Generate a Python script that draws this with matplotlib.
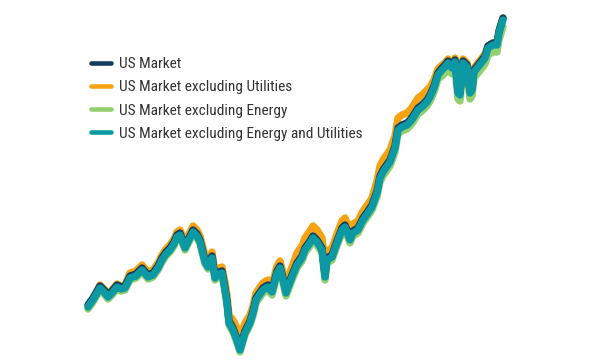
import matplotlib
matplotlib.use("Agg")
import matplotlib.pyplot as plt

# time steps (periods) and index levels
periods = [0, 5, 12, 16, 20, 24, 29, 33, 37, 42,
           48, 54, 60, 65, 70, 74, 78, 82, 86, 89,
           92, 97, 101, 105, 109, 112, 117, 120, 124, 127,
           131, 134, 137, 139, 141, 145, 148, 152, 157, 162,
           165, 168, 170, 175, 178, 180, 184, 189, 192, 195,
           198, 201, 204, 209, 214, 217, 222, 225, 229, 234,
           237, 239, 244, 249, 254, 257, 262, 265, 270, 275,
           280, 284, 289, 292, 295, 302, 307, 310, 314, 319,
           322, 325, 330, 334, 339, 342, 346, 350, 354, 357,
           360, 364, 367, 370, 372, 375, 379, 382, 384, 386,
           390, 394, 397, 400, 405, 409, 411, 414, 415]

us_market = [5.9, 6.6, 7.8, 7.4, 6.9, 7.3, 7.9, 7.7, 7.8, 8.8,
             9.0, 9.6, 8.9, 9.1, 9.8, 10.6, 11.2, 11.6, 12.2, 12.9,
             13.1, 11.8, 12.6, 13.4, 13.0, 12.4, 10.4, 9.9, 10.8, 8.8,
             9.2, 9.3, 7.6, 6.3, 4.3, 3.6, 2.8, 1.6, 3.3, 4.3,
             5.3, 6.6, 6.9, 7.6, 7.8, 7.9, 7.4, 9.3, 9.8, 8.6,
             7.3, 8.1, 8.9, 10.1, 10.8, 11.6, 12.3, 12.8, 12.4, 11.6,
             8.9, 10.6, 10.9, 12.3, 13.6, 13.9, 12.6, 13.3, 13.6, 14.6,
             15.3, 15.9, 17.3, 18.8, 19.4, 20.4, 21.8, 23.6, 23.9, 24.1,
             24.4, 24.8, 25.6, 25.9, 26.4, 26.9, 27.8, 29.1, 29.6, 29.9,
             30.3, 29.8, 30.4, 27.3, 27.1, 30.3, 29.9, 27.3, 27.6, 29.4,
             29.9, 30.4, 30.8, 31.8, 32.1, 32.1, 33.3, 34.3, 34.6]

ex_utilities = [5.8, 6.5, 7.9, 7.5, 7.0, 7.4, 8.0, 7.8, 7.9, 9.1,
                9.3, 9.9, 9.2, 9.4, 10.1, 10.9, 11.5, 11.9, 12.5, 13.2,
                13.4, 12.2, 13.0, 13.8, 13.4, 12.8, 10.8, 10.3, 11.2, 9.2,
                9.6, 9.7, 8.2, 6.9, 4.9, 4.4, 3.8, 2.7, 4.1, 4.9,
                5.8, 7.1, 7.4, 8.1, 8.3, 8.4, 7.9, 9.8, 10.3, 9.1,
                8.1, 8.9, 9.7, 11.1, 11.8, 12.6, 13.3, 13.8, 13.4, 12.6,
                9.6, 11.3, 11.6, 13.0, 14.3, 14.6, 13.3, 14.0, 14.3, 15.3,
                16.0, 16.6, 18.3, 19.8, 20.4, 21.4, 22.8, 24.6, 24.9, 25.1,
                25.4, 25.8, 26.6, 26.9, 27.4, 27.7, 28.4, 29.5, 29.9, 30.1,
                30.5, 30.0, 30.6, 27.5, 27.3, 30.5, 30.1, 27.5, 27.8, 29.6,
                30.1, 30.6, 31.0, 31.8, 32.1, 32.1, 33.3, 34.3, 34.6]

ex_energy = [5.5, 6.2, 7.4, 7.0, 6.5, 6.9, 7.5, 7.3, 7.4, 8.4,
             8.6, 9.2, 8.5, 8.7, 9.4, 10.2, 10.8, 11.2, 11.8, 12.5,
             12.7, 11.4, 12.2, 13.0, 12.6, 12.0, 10.0, 9.5, 10.4, 8.4,
             8.8, 8.9, 7.2, 5.9, 3.9, 3.2, 2.4, 1.2, 2.9, 3.9,
             4.8, 6.1, 6.4, 7.1, 7.3, 7.4, 6.9, 8.8, 9.3, 8.1,
             6.8, 7.6, 8.4, 9.6, 10.3, 11.1, 11.8, 12.3, 11.9, 11.1,
             8.4, 10.1, 10.4, 11.8, 13.1, 13.4, 12.1, 12.8, 13.1, 14.1,
             14.8, 15.4, 16.7, 18.2, 18.8, 19.8, 21.2, 23.0, 23.3, 23.5,
             23.8, 24.2, 25.0, 25.3, 25.8, 26.3, 27.2, 28.5, 28.8, 29.1,
             29.5, 29.0, 29.6, 26.5, 26.3, 29.5, 29.1, 26.5, 26.8, 28.6,
             29.1, 29.6, 30.0, 30.9, 31.2, 31.2, 32.4, 33.4, 33.7]

ex_energy_utilities = [5.7, 6.4, 7.6, 7.2, 6.7, 7.1, 7.7, 7.5, 7.6, 8.6,
                       8.8, 9.4, 8.7, 8.9, 9.6, 10.4, 11.0, 11.4, 12.0, 12.7,
                       12.9, 11.6, 12.4, 13.2, 12.8, 12.2, 10.2, 9.7, 10.6, 8.6,
                       9.0, 9.1, 7.4, 6.1, 4.1, 3.4, 2.6, 1.4, 3.1, 4.1,
                       5.1, 6.4, 6.7, 7.4, 7.6, 7.7, 7.2, 9.1, 9.6, 8.4,
                       7.1, 7.9, 8.7, 9.9, 10.6, 11.4, 12.1, 12.6, 12.2, 11.4,
                       8.7, 10.4, 10.7, 12.1, 13.4, 13.7, 12.4, 13.1, 13.4, 14.4,
                       15.1, 15.7, 17.1, 18.6, 19.2, 20.2, 21.6, 23.4, 23.7, 23.9,
                       24.2, 24.6, 25.4, 25.7, 26.2, 26.7, 27.6, 28.9, 29.4, 29.7,
                       30.1, 29.6, 30.2, 27.1, 26.9, 30.1, 29.7, 27.1, 27.4, 29.2,
                       29.7, 30.2, 30.6, 31.6, 31.9, 31.9, 33.1, 34.1, 34.4]

labels = ["US Market", "US Market excluding Utilities",
          "US Market excluding Energy", "US Market excluding Energy and Utilities"]
colors = ["#123d5e", "#f6a313", "#93cf6e", "#0d99a3"]

fig = plt.figure(figsize=(6, 3.64), dpi=100)
ax = fig.add_axes([0, 0, 1, 1])

# draw order: orange and green underneath, then navy, teal on top
order = [1, 2, 0, 3]
series = [us_market, ex_utilities, ex_energy, ex_energy_utilities]
handles = [None] * 4
for i in order:
    ln, = ax.plot(periods, series[i], color=colors[i], lw=5.3,
                  solid_capstyle="round", solid_joinstyle="round", label=labels[i])
    handles[i] = ln

ax.set_xlim(-88, 512)
ax.set_ylim(0, 36.4)
ax.axis("off")

leg = fig.legend(handles, labels, loc="upper left", bbox_to_anchor=(0.152, 1 - 57 / 364),
                 frameon=False, borderpad=0, borderaxespad=0,
                 handlelength=1.3, handletextpad=0.5, labelspacing=0.6,
                 prop={"family": ["Roboto Condensed", "Lato"], "size": 11.1})
for t in leg.get_texts():
    t.set_color("#333333")
for h in leg.legend_handles:
    h.set_linewidth(3.3)

fig.savefig("out.png", dpi=100)
